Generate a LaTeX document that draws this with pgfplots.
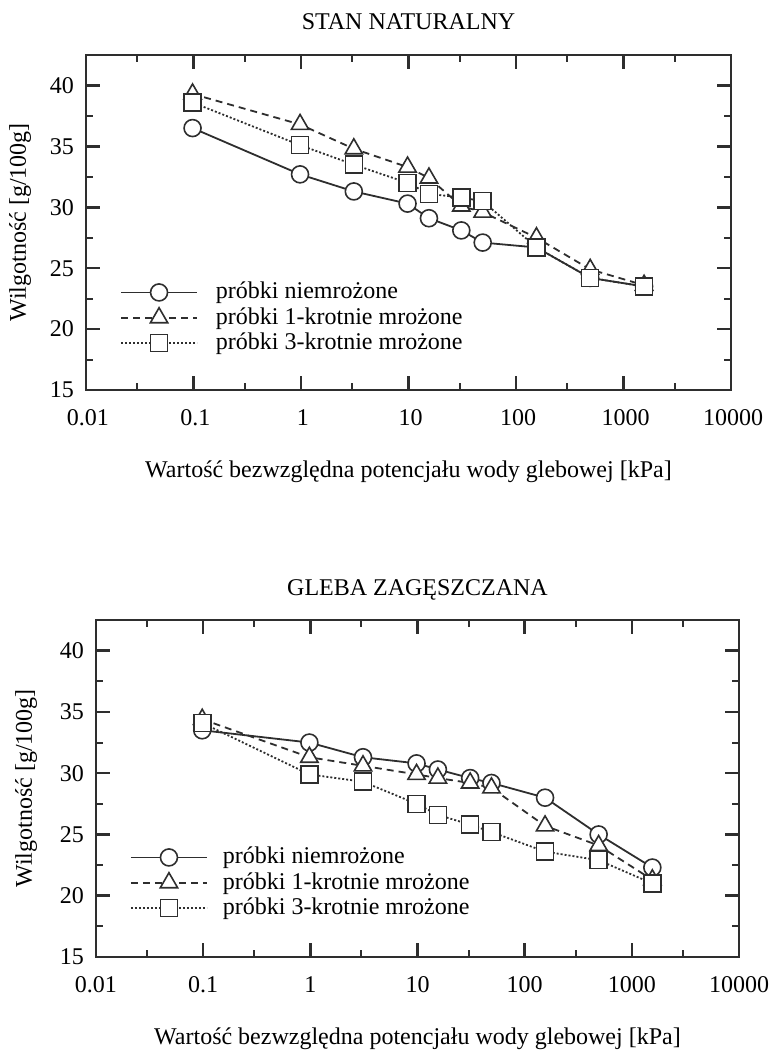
\documentclass[border=0pt]{standalone}
\usepackage{fontspec}
\setmainfont{Liberation Serif}
\usepackage{pgfplots}
\usepackage{pgfplotstable}
\pgfplotsset{compat=1.18}
\definecolor{ink}{gray}{0.18}

\pgfplotstableread{
x      n     a     b
0.098  36.5  39.3  38.6
0.98   32.7  36.8  35.1
3.1    31.3  34.8  33.5
9.8    30.3  33.3  32.0
15.5   29.1  32.4  31.1
31     28.1  30.1  30.8
49     27.1  29.6  30.5
155    26.7  27.5  26.7
490    24.2  24.9  24.2
1554   23.5  23.6  23.5
}\topdata

\pgfplotstableread{
x      n     a     b
0.098  33.5  34.4  34.1
0.98   32.5  31.3  29.9
3.1    31.3  30.6  29.3
9.8    30.8  29.9  27.5
15.5   30.3  29.6  26.6
31     29.6  29.2  25.8
49     29.2  28.8  25.2
155    28.0  25.7  23.6
490    25.0  24.1  22.9
1554   22.3  21.3  21.0
}\botdata

\tikzset{
  sn/.style={ink, line width=1.8pt, solid, mark=*, mark size=8.5pt, mark options={fill=white, solid, line width=1.6pt}},
  sa/.style={ink, line width=1.8pt, dash pattern=on 7pt off 5pt, mark=triangle*, mark size=10pt, mark options={fill=white, solid, line width=1.6pt}},
  sb/.style={ink, line width=1.8pt, dash pattern=on 2pt off 2pt, mark=square*, mark size=8.5pt, mark options={fill=white, solid, line width=1.6pt}},
}

\begin{document}
\fontsize{24}{28}\selectfont
\begin{tikzpicture}
\path[use as bounding box] (0,0) rectangle (773pt,1052pt);
\begin{axis}[scale only axis, at={(86pt,662pt)}, anchor=south west, width=645pt, height=335pt,
    xmode=log, xmin=0.01, xmax=10000, ymin=15, ymax=42.5,
    xtick={0.01,0.1,1,10,100,1000,10000},
    xticklabels={0.01,0.1,1,10,100,1000,10000},
    minor xtick={0.03,0.3,3,30,300,3000},
    ytick={15,20,25,30,35,40},
    minor ytick={17.5,22.5,27.5,32.5,37.5},
    tick align=inside,
    major tick length=14pt, minor tick length=7pt,
    major tick style={ink, line width=2.5pt},
    minor tick style={ink, line width=2pt},
    axis line style={ink, line width=2.5pt},
    /pgf/number format/assume math mode=true,
    xticklabel style={yshift=-11pt, xshift=2pt},
    yticklabel style={xshift=-4pt},
    ylabel={Wilgotność [g/100g]},
    xlabel={Wartość bezwzględna potencjału wody glebowej [kPa]},
    xlabel style={at={(axis description cs:0.5,0)}, anchor=center, yshift=-82pt},
    ylabel style={at={(axis description cs:0,0.5)}, anchor=center, yshift=66pt},
    title style={at={(axis description cs:0.5,1)}, anchor=center, yshift=27pt},
    legend cell align=left,
    legend style={draw=none, fill=none, anchor=north west, row sep=1pt, column sep=16pt, at={(axis description cs:0.048,0.334)}},
    legend image code/.code={\draw[mark repeat=2,mark phase=2,#1] plot coordinates {(0pt,0pt)(38pt,0pt)(76pt,0pt)};},
  title={STAN NATURALNY}]
\addplot[sn] table[x=x,y=n]{\topdata};
\addplot[sa] table[x=x,y=a]{\topdata};
\addplot[sb] table[x=x,y=b]{\topdata};
\legend{próbki niemrożone, próbki 1-krotnie mrożone, próbki 3-krotnie mrożone}
\end{axis}
\begin{axis}[scale only axis, at={(96pt,95pt)}, anchor=south west, width=643pt, height=337pt,
    xmode=log, xmin=0.01, xmax=10000, ymin=15, ymax=42.5,
    xtick={0.01,0.1,1,10,100,1000,10000},
    xticklabels={0.01,0.1,1,10,100,1000,10000},
    minor xtick={0.03,0.3,3,30,300,3000},
    ytick={15,20,25,30,35,40},
    minor ytick={17.5,22.5,27.5,32.5,37.5},
    tick align=inside,
    major tick length=14pt, minor tick length=7pt,
    major tick style={ink, line width=2.5pt},
    minor tick style={ink, line width=2pt},
    axis line style={ink, line width=2.5pt},
    /pgf/number format/assume math mode=true,
    xticklabel style={yshift=-11pt},
    yticklabel style={xshift=-4pt},
    ylabel={Wilgotność [g/100g]},
    xlabel={Wartość bezwzględna potencjału wody glebowej [kPa]},
    xlabel style={at={(axis description cs:0.5,0)}, anchor=center, yshift=-82pt},
    ylabel style={at={(axis description cs:0,0.5)}, anchor=center, yshift=70pt},
    title style={at={(axis description cs:0.5,1)}, anchor=center, yshift=24pt},
    legend cell align=left,
    legend style={draw=none, fill=none, anchor=north west, row sep=1pt, column sep=13pt, at={(axis description cs:0.048,0.338)}},
    legend image code/.code={\draw[mark repeat=2,mark phase=2,#1] plot coordinates {(0pt,0pt)(38pt,0pt)(76pt,0pt)};},
  title={GLEBA ZAGĘSZCZANA}]
\addplot[sn] table[x=x,y=n]{\botdata};
\addplot[sa] table[x=x,y=a]{\botdata};
\addplot[sb] table[x=x,y=b]{\botdata};
\legend{próbki niemrożone, próbki 1-krotnie mrożone, próbki 3-krotnie mrożone}
\end{axis}
\end{tikzpicture}
\end{document}
